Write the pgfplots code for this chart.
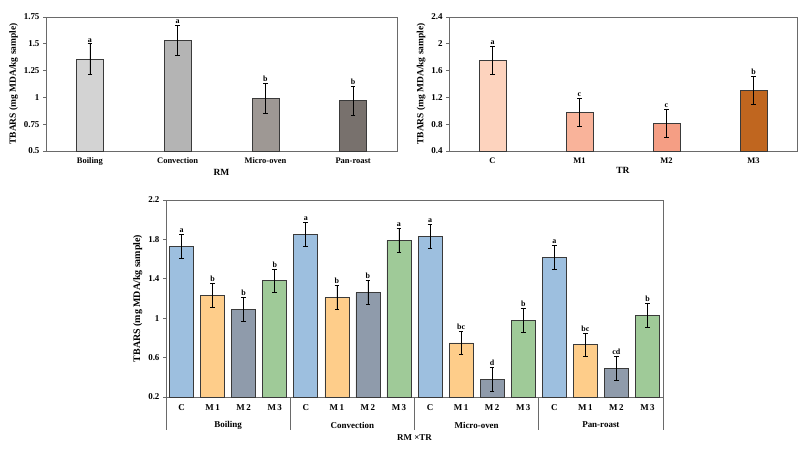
\documentclass[border=0pt]{standalone}
\usepackage{pgfplots}
\pgfplotsset{compat=1.18}
\usepackage{fontspec}
\setmainfont{Liberation Serif}
\definecolor{gA}{HTML}{D3D3D3}
\definecolor{gB}{HTML}{B4B4B4}
\definecolor{gC}{HTML}{9E9894}
\definecolor{gD}{HTML}{78716D}
\definecolor{oA}{HTML}{FDD3BE}
\definecolor{oB}{HTML}{F9B39A}
\definecolor{oC}{HTML}{F59E84}
\definecolor{oD}{HTML}{C0661F}
\definecolor{cC}{HTML}{9DBFDF}
\definecolor{cM1}{HTML}{FECD8A}
\definecolor{cM2}{HTML}{8F9BAB}
\definecolor{cM3}{HTML}{9FCA98}
\definecolor{frame}{HTML}{6A6A6A}
\definecolor{edge}{HTML}{3A3A3A}
\pgfplotsset{
  common/.style={
    scale only axis, anchor=south west, clip=false,
    axis line style={frame, line width=0.7pt},
    tick style={frame, line width=0.6pt},
    tick align=outside, major tick length=3bp,
    xtick style={draw=none},
    ytick pos=left, xtick pos=bottom,
    /pgf/number format/assume math mode=true,
    ticklabel style={font=\bfseries\fontsize{8.5}{9}\selectfont},
    yticklabel style={/pgf/number format/fixed, font=\bfseries\fontsize{9}{10}\selectfont},
    label style={font=\bfseries\fontsize{9.5}{10}\selectfont},
  },
  bb/.style={ybar, bar shift=0pt, bar width=#1, draw=edge, line width=0.6pt,
    error bars/y dir=both, error bars/y explicit,
    error bars/error bar style={black, line width=0.6pt},
    error bars/error mark options={black, rotate=90, mark size=2.3bp, line width=0.6pt}},
  lab/.style={only marks, mark=none, nodes near coords, point meta=explicit symbolic,
    nodes near coords style={anchor=south, inner sep=1.5bp, font=\bfseries\fontsize{8}{9}\selectfont}},
}
\begin{document}
\begin{tikzpicture}
\path[use as bounding box] (0,0) rectangle (799bp,452bp);
% ---------- top left ----------
\begin{axis}[common, at={(46bp,301bp)}, width=351bp, height=134bp,
  xmin=-0.5, xmax=3.5, ymin=0.5, ymax=1.75,
  ytick={0.5,0.75,1,1.25,1.5,1.75},
  yticklabels={0.5,0.75,1,1.25,1.5,1.75},
  xtick={0,1,2,3}, xticklabels={Boiling,Convection,Micro-oven,Pan-roast},
  xlabel={RM}, ylabel={TBARS (mg MDA/kg sample)},
  xlabel style={yshift=3bp}, ylabel style={yshift=-1bp}]
\addplot[bb=27bp, fill=gA] coordinates {(0,1.36) +- (0,0.14)};
\addplot[bb=27bp, fill=gB] coordinates {(1,1.53) +- (0,0.14)};
\addplot[bb=27bp, fill=gC] coordinates {(2,0.99) +- (0,0.14)};
\addplot[bb=27bp, fill=gD] coordinates {(3,0.97) +- (0,0.135)};
\addplot[lab] table[meta=l] {
x y l
0 1.50 a
1 1.67 a
2 1.13 b
3 1.105 b
};
\end{axis}
% ---------- top right ----------
\begin{axis}[common, at={(449bp,301bp)}, width=348bp, height=134bp,
  xmin=-0.5, xmax=3.5, ymin=0.4, ymax=2.4,
  ytick={0.4,0.8,1.2,1.6,2,2.4},
  yticklabels={0.4,0.8,1.2,1.6,2,2.4},
  xtick={0,1,2,3}, xticklabels={C,M1,M2,M3},
  xlabel={TR}, ylabel={TBARS (mg MDA/kg sample)},
  xlabel style={yshift=3bp}, ylabel style={yshift=-1bp}]
\addplot[bb=27bp, fill=oA] coordinates {(0,1.76) +- (0,0.21)};
\addplot[bb=27bp, fill=oB] coordinates {(1,0.98) +- (0,0.205)};
\addplot[bb=27bp, fill=oC] coordinates {(2,0.81) +- (0,0.21)};
\addplot[bb=27bp, fill=oD] coordinates {(3,1.30) +- (0,0.21)};
\addplot[lab] table[meta=l] {
x y l
0 1.97 a
1 1.185 c
2 1.02 c
3 1.51 b
};
\end{axis}
% ---------- bottom ----------
\begin{axis}[common, at={(166bp,55bp)}, width=497bp, height=197bp,
  xmin=-0.5, xmax=15.5, ymin=0.2, ymax=2.2,
  ytick={0.2,0.6,1,1.4,1.8,2.2},
  yticklabels={0.2,0.6,1,1.4,1.8,2.2},
  xtick={0,...,15},
  xticklabels={C,M\,1,M\,2,M\,3,C,M\,1,M\,2,M\,3,C,M\,1,M\,2,M\,3,C,M\,1,M\,2,M\,3},
  xticklabel style={yshift=-1bp, font=\bfseries\fontsize{9}{10}\selectfont},
  ylabel={TBARS (mg MDA/kg sample)},
  ylabel style={yshift=-1bp, font=\bfseries\fontsize{10}{11}\selectfont}]
\addplot[bb=24bp, fill=cC] coordinates {(0,1.73) +- (0,0.12) (4,1.85) +- (0,0.12) (8,1.83) +- (0,0.12) (12,1.62) +- (0,0.12)};
\addplot[bb=24bp, fill=cM1] coordinates {(1,1.23) +- (0,0.12) (5,1.21) +- (0,0.12) (9,0.75) +- (0,0.12) (13,0.73) +- (0,0.115)};
\addplot[bb=24bp, fill=cM2] coordinates {(2,1.09) +- (0,0.12) (6,1.26) +- (0,0.12) (10,0.38) +- (0,0.12) (14,0.49) +- (0,0.12)};
\addplot[bb=24bp, fill=cM3] coordinates {(3,1.38) +- (0,0.12) (7,1.79) +- (0,0.12) (11,0.98) +- (0,0.12) (15,1.03) +- (0,0.12)};
\addplot[lab] table[meta=l] {
x y l
0 1.85 a
1 1.35 b
2 1.21 b
3 1.50 b
4 1.97 a
5 1.33 b
6 1.38 b
7 1.91 a
8 1.95 a
9 0.87 bc
10 0.50 d
11 1.10 b
12 1.74 a
13 0.845 bc
14 0.61 cd
15 1.15 b
};
\foreach \s in {-0.5,3.5,7.5,11.5,15.5}{
  \edef\tmp{\noexpand\draw[frame, line width=0.7pt] (axis cs:\s,0.2) -- ([yshift=-33bp]axis cs:\s,0.2);}\tmp
}
\path[font=\bfseries\fontsize{9}{10}\selectfont]
  (axis cs:1.5,0.2) node[yshift=-28bp] {Boiling}
  (axis cs:5.5,0.2) node[yshift=-28bp] {Convection}
  (axis cs:9.5,0.2) node[yshift=-28bp] {Micro-oven}
  (axis cs:13.5,0.2) node[yshift=-28bp] {Pan-roast}
  (axis cs:7.5,0.2) node[yshift=-41bp] {RM ×TR};
\end{axis}
\end{tikzpicture}
\end{document}
